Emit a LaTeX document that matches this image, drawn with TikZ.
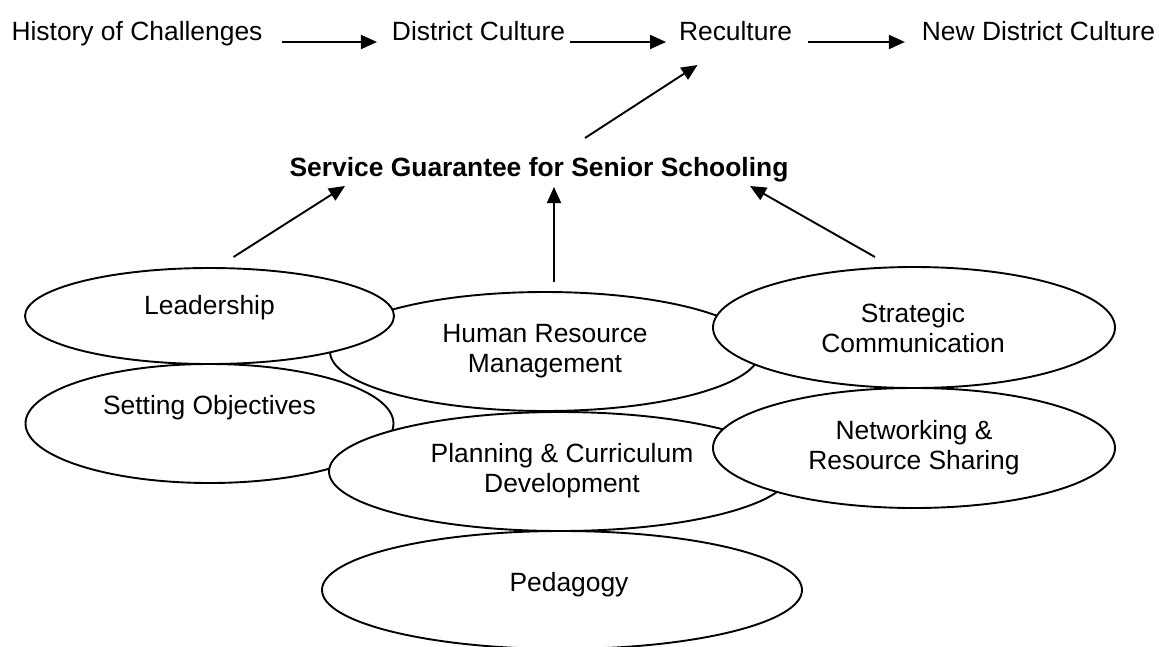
\documentclass[tikz,border=0pt]{standalone}
\usepackage{fontspec}
\setmainfont{Liberation Sans}
\usetikzlibrary{arrows.meta,shapes.geometric}
\begin{document}
\begin{tikzpicture}[x=1pt,y=-1pt,
  every node/.style={inner sep=0pt, outer sep=0pt, font=\fontsize{26.4}{30}\selectfont},
  lbl/.style={align=center},
  oval/.style={ellipse, draw, fill=white, line width=1.9pt},
  arr/.style={line width=1.9pt, -{Triangle[length=16pt,width=14pt]}},
]
\clip (0,0) rectangle (1159,646);
\fill[white] (0,0) rectangle (1159,646);

% chain of cultures along the top
\node[anchor=base] (hist) at (137,40) {History of Challenges};
\node[anchor=base] (dist) at (478.5,40) {District Culture};
\node[anchor=base] (rec)  at (735.5,40) {Reculture};
\node[anchor=base] (newd) at (1038.5,40) {New District Culture};
\draw[arr] ([shift={(20,2)}]hist.base east) -- ([shift={(-15,2)}]dist.base west);
\draw[arr] ([shift={(5,2)}]dist.base east) -- ([shift={(-13,2)}]rec.base west);
\draw[arr] ([shift={(16,2)}]rec.base east) -- ([shift={(-17,2)}]newd.base west);

% service guarantee
\node[anchor=base, font=\fontsize{26.4}{30}\selectfont\bfseries] (sg) at (539,176)
  {Service Guarantee for Senior Schooling};
\draw[arr] ([shift={(46,-38)}]sg.base) -- ([shift={(-38,25)}]rec.base);

% overlapping ovals
\node[oval, minimum width=368pt, minimum height=119pt] (setobj) at (209.5,423.5) {};
\node[oval, minimum width=430pt, minimum height=119pt] (hrm) at (545,351.5) {};
\node[oval, minimum width=369pt, minimum height=96pt] (lead) at (209.5,316) {};
\node[oval, minimum width=462pt, minimum height=119pt] (pcd) at (560,471.5) {};
\node[oval, minimum width=402pt, minimum height=121pt] (sc) at (914,327.5) {};
\node[oval, minimum width=402pt, minimum height=120pt] (nrs) at (914,448) {};
\node[oval, minimum width=480pt, minimum height=118pt] (ped) at (562,590) {};

\node[lbl] at (209.5,308) {Leadership};
\node[lbl] at (209.5,408) {Setting Objectives};
\node[lbl] at (545,351) {Human Resource\\Management};
\node[lbl] at (562,470.5) {Planning \& Curriculum\\Development};
\node[lbl] at (913,328) {Strategic\\Communication};
\node[lbl] at (914,448) {Networking \&\\Resource Sharing};
\node[lbl] at (569,585) {Pedagogy};

% contributions to the service guarantee
\draw[arr] ([shift={(24,-11)}]lead.north) -- ([shift={(-194,10)}]sg.base);
\draw[arr] ([shift={(9,-10)}]hrm.north) -- ([shift={(15,11)}]sg.base);
\draw[arr] ([shift={(-39,-10)}]sc.north) -- ([shift={(211,10)}]sg.base);
\end{tikzpicture}
\end{document}
